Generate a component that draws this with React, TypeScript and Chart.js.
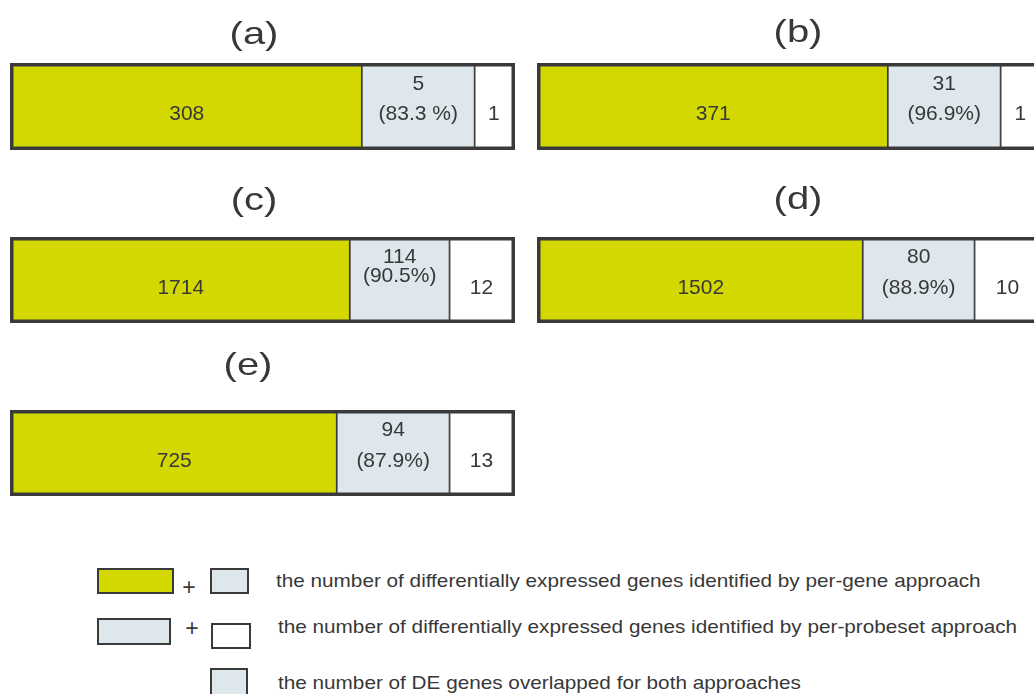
import React, { useEffect, useRef } from "react";
import { Chart, registerables } from "chart.js";

Chart.register(...registerables);

// ---- data ----
const panelTitles = ["(a)", "(b)", "(c)", "(d)", "(e)"];
// DE genes found only by per-gene approach
const perGeneOnly = [308, 371, 1714, 1502, 725];
// DE genes overlapped for both approaches
const overlapCount = [5, 31, 114, 80, 94];
const overlapPct = ["83.3 %", "96.9%", "90.5%", "88.9%", "87.9%"];
// DE genes found only by per-probeset approach
const perProbesetOnly = [1, 1, 12, 10, 13];
// schematic (non-proportional) segment lengths, % of the bar, as drawn
const greenLen = [69.8, 69.6, 67.4, 64.6, 64.8];
const blueLen = [22.5, 22.5, 19.9, 22.3, 22.5];
const whiteLen = [7.7, 7.9, 12.7, 13.1, 12.7];

const legendLines = [
  "the number of differentially expressed genes identified by per-gene approach",
  "the number of differentially expressed genes identified by per-probeset approach",
  "the number of DE genes overlapped for both approaches",
];

// ---- layout / style ----
const GREEN = "#D3D900";
const BLUE = "#DDE7EC";
const WHITE = "#FFFFFF";
const EDGE = "#3A3A3A";
const TEXT = "#383838";
const FONT = '"Liberation Sans", Arial, Helvetica, sans-serif';
const FRAME = 3.5;
const BAR_W = 505;

const panelBoxes = [
  { left: 10, top: 63, bottom: 150, titleX: 254, titleY: 35, pctDy: 8 },
  { left: 537, top: 63, bottom: 150, titleX: 798, titleY: 33, pctDy: 8 },
  { left: 10, top: 237, bottom: 323, titleX: 254, titleY: 201, pctDy: -4 },
  { left: 537, top: 237, bottom: 323, titleX: 798, titleY: 200, pctDy: 8 },
  { left: 10, top: 410, bottom: 496, titleX: 248, titleY: 366, pctDy: 8 },
];

const textPlugin = {
  id: "panelText",
  afterDatasetsDraw(chart: any) {
    const o = chart.options.plugins.panelText;
    if (!o) return;
    const i = o.index;
    const ctx = chart.ctx;
    const ca = chart.chartArea;
    ctx.save();
    // outer frame
    ctx.strokeStyle = EDGE;
    ctx.lineWidth = FRAME;
    ctx.strokeRect(ca.left, ca.top, ca.right - ca.left, ca.bottom - ca.top);

    const seg = (d: number) => {
      const el = chart.getDatasetMeta(d).data[0];
      return { cx: (el.x + el.base) / 2, cy: el.y };
    };
    ctx.fillStyle = TEXT;
    ctx.textAlign = "center";
    ctx.textBaseline = "middle";
    ctx.font = `21px ${FONT}`;
    const g = seg(0);
    ctx.fillText(String(perGeneOnly[i]), g.cx, g.cy + 8);
    const b = seg(1);
    ctx.fillText(String(overlapCount[i]), b.cx, b.cy - 22.5);
    ctx.fillText(`(${overlapPct[i]})`, b.cx, b.cy + o.pctDy);
    const w = seg(2);
    ctx.fillText(String(perProbesetOnly[i]), w.cx, w.cy + 8);

    // panel title
    ctx.translate(o.titleX, o.titleY);
    ctx.scale(1.25, 1);
    ctx.font = `32px ${FONT}`;
    ctx.fillText(panelTitles[i], 0, 0);
    ctx.restore();
  },
};

function Panel({ index }: { index: number }) {
  const ref = useRef<HTMLCanvasElement | null>(null);
  const box = panelBoxes[index];
  const cLeft = box.left - 4;
  const cTop = box.titleY - 25;
  const cW = BAR_W + 8;
  const cH = box.bottom + 4 - cTop;

  useEffect(() => {
    if (!ref.current) return;
    const total = greenLen[index] + blueLen[index] + whiteLen[index];
    const ds = (v: number, color: string) => ({
      data: [v],
      backgroundColor: color,
      borderColor: EDGE,
      borderWidth: { left: 1.2, right: 1.2, top: 0, bottom: 0 },
      borderSkipped: false,
      barPercentage: 1,
      categoryPercentage: 1,
    });
    const chart = new Chart(ref.current, {
      type: "bar",
      data: {
        labels: [panelTitles[index]],
        datasets: [
          ds(greenLen[index], GREEN),
          ds(blueLen[index], BLUE),
          ds(whiteLen[index], WHITE),
        ],
      },
      options: {
        indexAxis: "y",
        responsive: false,
        animation: false,
        events: [],
        layout: {
          padding: {
            left: 4 + FRAME / 2,
            right: 4 + FRAME / 2,
            top: box.top + FRAME / 2 - cTop,
            bottom: 4 + FRAME / 2,
          },
        },
        scales: {
          x: { stacked: true, min: 0, max: total, display: false },
          y: { stacked: true, display: false },
        },
        plugins: {
          legend: { display: false },
          tooltip: { enabled: false },
          panelText: {
            index,
            titleX: box.titleX - cLeft,
            titleY: box.titleY - cTop,
            pctDy: box.pctDy,
          },
        } as any,
      },
      plugins: [textPlugin],
    } as any);
    return () => chart.destroy();
  }, [index]);

  return (
    <canvas
      ref={ref}
      width={cW}
      height={cH}
      style={{ position: "absolute", left: cLeft, top: cTop, width: cW, height: cH }}
    />
  );
}

function Swatch({ x, y, w, h, color }: { x: number; y: number; w: number; h: number; color: string }) {
  return (
    <div
      style={{
        position: "absolute",
        left: x,
        top: y,
        width: w,
        height: h,
        boxSizing: "border-box",
        border: `2px solid ${EDGE}`,
        background: color,
      }}
    />
  );
}

function LegendText({ x, cy, text }: { x: number; cy: number; text: string }) {
  return (
    <div
      style={{
        position: "absolute",
        left: x,
        top: cy - 11,
        height: 22,
        lineHeight: "22px",
        fontSize: 18.5,
        fontFamily: FONT,
        color: TEXT,
        whiteSpace: "nowrap",
        transform: "scaleX(1.12)",
        transformOrigin: "left center",
      }}
    >
      {text}
    </div>
  );
}

function Plus({ x, cy }: { x: number; cy: number }) {
  return (
    <div
      style={{
        position: "absolute",
        left: x - 10,
        top: cy - 12,
        width: 20,
        height: 24,
        lineHeight: "24px",
        textAlign: "center",
        fontSize: 23,
        fontFamily: FONT,
        color: TEXT,
      }}
    >
      +
    </div>
  );
}

export default function App() {
  return (
    <div
      style={{
        position: "absolute",
        left: 0,
        top: 0,
        width: 1034,
        height: 694,
        overflow: "hidden",
        background: "#fff",
      }}
    >
      {panelTitles.map((_, i) => (
        <Panel key={i} index={i} />
      ))}
      <Swatch x={97} y={568} w={77} h={26} color={GREEN} />
      <Plus x={189} cy={587} />
      <Swatch x={210} y={568} w={39} h={26} color={BLUE} />
      <LegendText x={276} cy={581} text={legendLines[0]} />

      <Swatch x={97} y={618} w={74} h={27} color={BLUE} />
      <Plus x={192} cy={628} />
      <Swatch x={211} y={623} w={40} h={26} color={WHITE} />
      <LegendText x={278} cy={627} text={legendLines[1]} />

      <Swatch x={210} y={668} w={38} h={30} color={BLUE} />
      <LegendText x={278} cy={683} text={legendLines[2]} />
    </div>
  );
}
